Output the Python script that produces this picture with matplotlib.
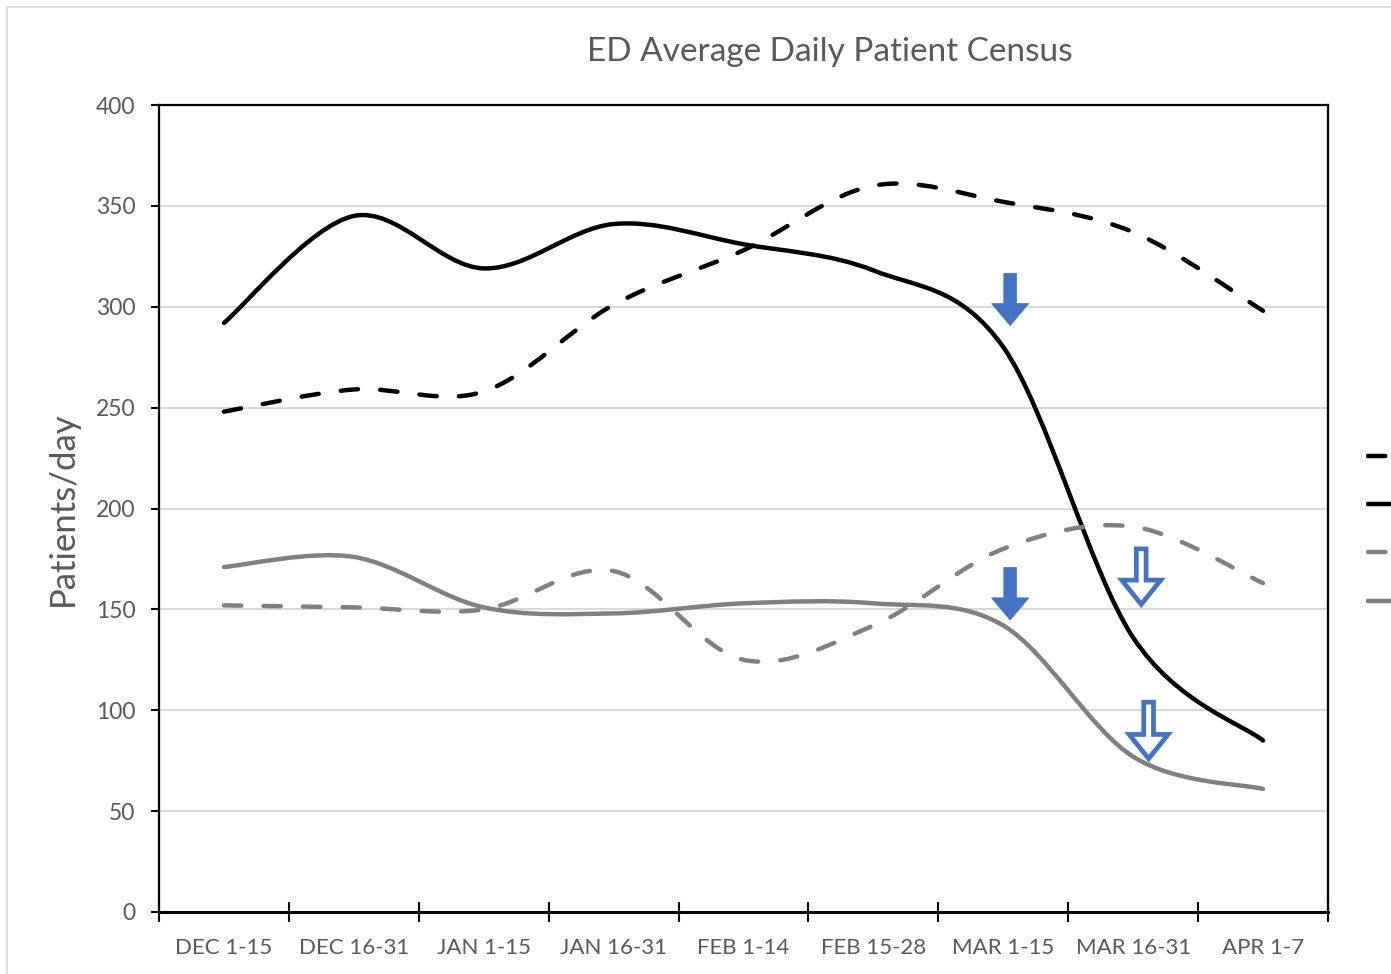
import matplotlib
matplotlib.use('Agg')
import matplotlib.pyplot as plt
from matplotlib.path import Path
from matplotlib.patches import PathPatch, FancyArrow, Rectangle
from matplotlib.lines import Line2D
import numpy as np

PERIODS = ['DEC 1-15', 'DEC 16-31', 'JAN 1-15', 'JAN 16-31', 'FEB 1-14',
           'FEB 15-28', 'MAR 1-15', 'MAR 16-31', 'APR 1-7']

TOTAL_CUR = [292, 345, 319, 341, 331, 318, 280, 136, 85]
TOTAL_PREV = [248, 259, 258, 301, 328, 360, 352, 337, 298]
SUB_CUR = [171, 176, 151, 148, 153, 153, 142, 77, 61]
SUB_PREV = [152, 151, 150, 169, 125, 142, 180, 191, 163]

# (x position, tail value, tip value, filled)
ARROWS = [(6.053, 316.6, 290.6, True),
          (6.053, 170.8, 144.7, True),
          (7.062, 180.0, 152.5, False),
          (7.119, 104.0, 76.0, False)]

TITLE = 'ED Average Daily Patient Census'
YLABEL = 'Patients/day'

TEXT = '#595959'
GRID = '#D9D9D9'
BLUE = '#4472C4'
GRAY = '#808080'
DPI = 100
LW = 3.2
DASH = (0, (3.9, 5.0))

plt.rcParams['font.family'] = ['Lato', 'DejaVu Sans']


def smooth_path(xs, ys):
    # excel style smoothed line: cubic bezier through every point
    pts = np.column_stack([xs, ys]).astype(float)
    n = len(pts)
    verts = [pts[0]]
    codes = [Path.MOVETO]
    for i in range(n - 1):
        p0 = pts[max(i - 1, 0)]
        p1 = pts[i]
        p2 = pts[i + 1]
        p3 = pts[min(i + 2, n - 1)]
        c1 = p1 + (p2 - p0) / 6.0
        c2 = p2 - (p3 - p1) / 6.0
        verts += [c1, c2, p2]
        codes += [Path.CURVE4] * 3
    return Path(verts, codes)


def draw_series(ax, values, color, dashed):
    x = np.arange(len(values))
    patch = PathPatch(smooth_path(x, values), fill=False, edgecolor=color,
                      linewidth=LW, capstyle='round', joinstyle='round',
                      linestyle=DASH if dashed else '-', zorder=3)
    ax.add_patch(patch)
    return Line2D([], [], color=color, lw=LW, solid_capstyle='round',
                  dash_capstyle='round', linestyle=DASH if dashed else '-')


def draw_arrow(ax, x, top, tip, filled):
    if filled:
        arr = FancyArrow(x, top, 0, tip - top, width=0.098, head_width=0.287,
                         head_length=11.0, length_includes_head=True,
                         facecolor=BLUE, edgecolor=BLUE, lw=0.5, zorder=5)
    else:
        arr = FancyArrow(x, top, 0, tip - top, width=0.075, head_width=0.30,
                         head_length=12.0, length_includes_head=True,
                         facecolor='white', edgecolor=BLUE, lw=3.4,
                         joinstyle='miter', zorder=5)
    ax.add_patch(arr)


def main():
    fig = plt.figure(figsize=(1391 / DPI, 974 / DPI), dpi=DPI)
    fig.patches.append(Rectangle((7 / 1391, -0.1), 1.2, 1 - 7 / 974 + 0.1,
                                 transform=fig.transFigure, fill=False,
                                 edgecolor=GRID, lw=1.2))
    ax = fig.add_axes([159 / 1391, 62 / 974, 1169 / 1391, 807 / 974])

    handles = []
    handles.append(draw_series(ax, TOTAL_PREV, 'black', True))
    handles.append(draw_series(ax, TOTAL_CUR, 'black', False))
    handles.append(draw_series(ax, SUB_PREV, GRAY, True))
    handles.append(draw_series(ax, SUB_CUR, GRAY, False))

    for a in ARROWS:
        draw_arrow(ax, *a)

    ax.set_xlim(-0.5, len(PERIODS) - 0.5)
    ax.set_ylim(0, 400)
    ax.set_yticks(np.arange(0, 401, 50))
    ax.yaxis.grid(True, color=GRID, lw=1.5)
    ax.set_axisbelow(True)
    ax.tick_params(axis='y', length=6, width=1.5, colors='black',
                   labelcolor=TEXT, labelsize=16.5, pad=11)

    ax.set_xticks(np.arange(-0.5, len(PERIODS), 1.0))
    ax.set_xticklabels([])
    ax.tick_params(axis='x', which='major', direction='inout', length=14,
                   width=1.5, colors='black')
    ax.set_xticks(np.arange(len(PERIODS)), minor=True)
    ax.set_xticklabels(PERIODS, minor=True)
    ax.tick_params(axis='x', which='minor', length=0, labelcolor=TEXT,
                   labelsize=16, pad=18.5)

    for side in ['left', 'right', 'top']:
        ax.spines[side].set_linewidth(1.6)
    ax.spines['bottom'].set_linewidth(2.2)

    ax.set_ylabel(YLABEL, color=TEXT, fontsize=25, labelpad=12)
    fig.text(830 / 1391, 1 - 52 / 974, TITLE, color=TEXT, fontsize=24,
             ha='center', va='center')

    # legend sits at the right edge, mostly cut off like the source
    fig.legend(handles, [' '] * 4, loc='upper left',
               bbox_to_anchor=(1368 / 1391, 1 - 449 / 974), frameon=False,
               handlelength=4, borderpad=0, borderaxespad=0, handletextpad=0.5,
               fontsize=14, labelspacing=1.6)

    fig.savefig('out.png', dpi=DPI)


if __name__ == '__main__':
    main()
